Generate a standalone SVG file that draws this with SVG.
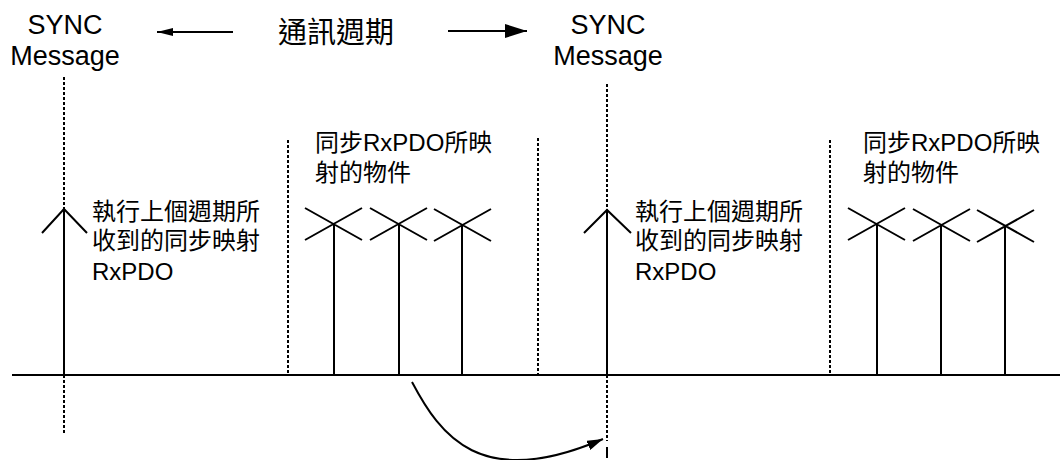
<svg xmlns="http://www.w3.org/2000/svg" width="1060" height="460" viewBox="0 0 1060 460">
<style>
  .t { font-family: "Liberation Sans", "Noto Sans CJK TC", sans-serif; fill: #000; }
  .title { font-size: 27px; text-anchor: middle; }
  .lbl { font-size: 24px; }
  .solid { stroke: #000; stroke-width: 2; fill: none; }
  .dot { stroke: #000; stroke-width: 2; fill: none; stroke-dasharray: 3 2; }
</style>
<defs>
  <marker id="ahSmall" viewBox="0 0 16 8" refX="16" refY="4" markerWidth="16" markerHeight="8" markerUnits="userSpaceOnUse" orient="auto">
    <path d="M0,0 L16,4 L0,8 Z" fill="#000"/>
  </marker>
  <marker id="ahBig" viewBox="0 0 22 14" refX="22" refY="7" markerWidth="22" markerHeight="14" markerUnits="userSpaceOnUse" orient="auto">
    <path d="M0,0 L22,7 L0,14 Z" fill="#000"/>
  </marker>
  <marker id="ahCurve" viewBox="0 0 16 10" refX="16" refY="5" markerWidth="16" markerHeight="10" markerUnits="userSpaceOnUse" orient="auto">
    <path d="M0,0 L16,5 L0,10 Z" fill="#000"/>
  </marker>
</defs>

<g id="sync-left">
  <text class="t title" x="65" y="34">SYNC</text>
  <text class="t title" x="65" y="64.5">Message</text>
</g>
<g id="sync-right">
  <text class="t title" x="608" y="34">SYNC</text>
  <text class="t title" x="608" y="64.5">Message</text>
</g>
<g id="period">
  <text class="t" x="336" y="43" font-size="29" text-anchor="middle">通訊週期</text>
</g>

<g id="timeline">
  <line class="solid" x1="12" y1="375" x2="1060" y2="375"/>
</g>

<g id="exec-left">
  <line class="dot" x1="64" y1="77" x2="64" y2="209"/>
  <line class="solid" x1="64" y1="209" x2="64" y2="375"/>
  <line class="dot" x1="64" y1="375" x2="64" y2="433"/>
  <polyline class="solid" points="42,233 64,209 87,233"/>
  <text class="t lbl" x="92" y="220">執行上個週期所</text>
  <text class="t lbl" x="92" y="249">收到的同步映射</text>
  <text class="t lbl" x="92" y="280">RxPDO</text>
</g>

<g id="exec-right">
  <line class="dot" x1="607" y1="84" x2="607" y2="210"/>
  <line class="solid" x1="607" y1="210" x2="607" y2="375"/>
  <line class="dot" x1="607" y1="375" x2="607" y2="441"/>
  <line class="solid" x1="607" y1="447" x2="607" y2="458"/>
  <polyline class="solid" points="584,233 607,210 631,233"/>
  <text class="t lbl" x="635" y="220">執行上個週期所</text>
  <text class="t lbl" x="635" y="249">收到的同步映射</text>
  <text class="t lbl" x="635" y="280">RxPDO</text>
</g>

<g id="objects-mid">
  <line class="dot" x1="288" y1="140" x2="288" y2="375"/>
  <line class="dot" x1="538" y1="138" x2="538" y2="375"/>
  <text class="t lbl" x="315" y="151">同步RxPDO所映</text>
  <text class="t lbl" x="315" y="181">射的物件</text>
  <path class="solid" d="M305,208 L362,240 M305,240 L362,208 M334,224 V375"/>
  <path class="solid" d="M370,208 L427,240 M370,240 L427,208 M399,225 V375"/>
  <path class="solid" d="M434,209 L491,241 M434,241 L491,209 M462,226 V375"/>
</g>

<g id="objects-right">
  <line class="dot" x1="830" y1="140" x2="830" y2="375"/>
  <text class="t lbl" x="863" y="151">同步RxPDO所映</text>
  <text class="t lbl" x="863" y="181">射的物件</text>
  <path class="solid" d="M848,208 L905,240 M848,240 L905,208 M877,224 V375"/>
  <path class="solid" d="M913,209 L970,241 M913,241 L970,209 M941,225 V375"/>
  <path class="solid" d="M977,210 L1034,242 M977,242 L1034,210 M1005,226 V375"/>
</g>

<g id="connectors">
  <line class="solid" x1="233" y1="32" x2="157" y2="32" marker-end="url(#ahSmall)"/>
  <line class="solid" x1="448" y1="31" x2="527" y2="31" marker-end="url(#ahBig)"/>
  <path class="solid" d="M412,382 C440,435 480,492 603,439" marker-end="url(#ahCurve)"/>
</g>
</svg>
